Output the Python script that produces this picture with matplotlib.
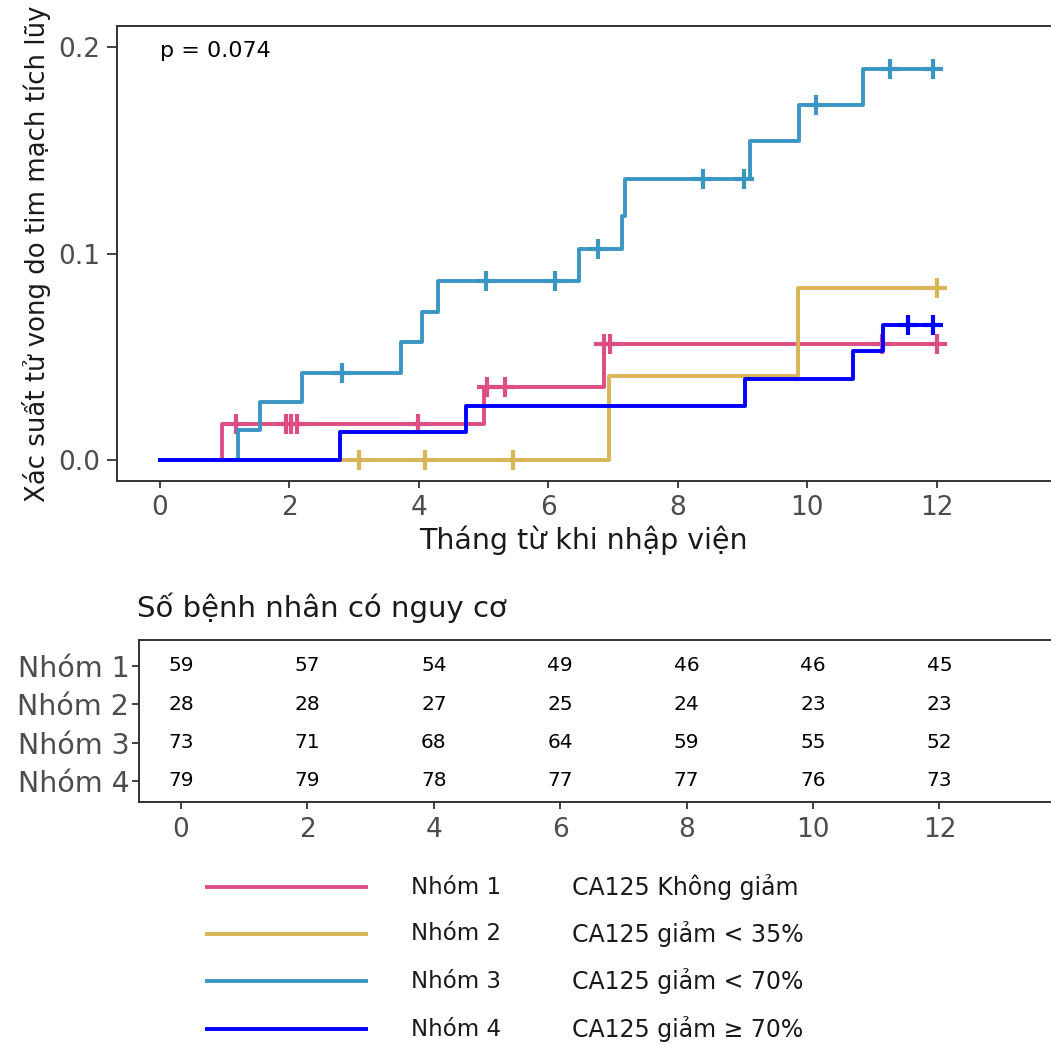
import numpy as np
import matplotlib
matplotlib.use("Agg")
import matplotlib.pyplot as plt

plt.rcParams['font.family'] = ['DejaVu Sans']

# cumulative incidence step curves (months, cumulative probability)
groups = ["Nhóm 1", "Nhóm 2", "Nhóm 3", "Nhóm 4"]
descriptions = ["CA125 Không giảm", "CA125 giảm < 35%", "CA125 giảm < 70%", "CA125 giảm ≥ 70%"]
colors = ["#DE4D86", "#D6B656", "#3A96C3", "#0000FF"]

g1_time = [0, 0.96, 5.0, 6.86, 12.0]
g1_cum = [0, 0.0174, 0.0354, 0.0564, 0.0564]
g1_cens = [1.18, 1.95, 2.03, 2.11, 3.98, 5.05, 5.33, 6.86, 6.95, 11.16, 12.0]

g2_time = [0, 6.94, 9.85, 12.0]
g2_cum = [0, 0.0407, 0.0834, 0.0834]
g2_cens = [3.08, 4.09, 5.45, 12.0]

g3_time = [0, 1.2, 1.55, 2.19, 3.73, 4.05, 4.30, 6.47, 7.14, 7.18, 9.11, 9.87, 10.86, 12.0]
g3_cum = [0, 0.0145, 0.0282, 0.0422, 0.0572, 0.0717, 0.0865, 0.1023, 0.118, 0.136,
          0.1543, 0.1718, 0.1895, 0.1895]
g3_cens = [2.81, 5.03, 6.10, 6.77, 8.39, 9.02, 10.13, 11.28, 11.95]

g4_time = [0, 2.78, 4.73, 9.04, 10.70, 11.17, 12.0]
g4_cum = [0, 0.0134, 0.0261, 0.039, 0.0527, 0.0652, 0.0652]
g4_cens = [11.55, 11.95]

times = [g1_time, g2_time, g3_time, g4_time]
cums = [g1_cum, g2_cum, g3_cum, g4_cum]
censors = [g1_cens, g2_cens, g3_cens, g4_cens]

# number at risk table
risk_times = [0, 2, 4, 6, 8, 10, 12]
risk_n1 = [59, 57, 54, 49, 46, 46, 45]
risk_n2 = [28, 28, 27, 25, 24, 23, 23]
risk_n3 = [73, 71, 68, 64, 59, 55, 52]
risk_n4 = [79, 79, 78, 77, 77, 76, 73]
risk = [risk_n1, risk_n2, risk_n3, risk_n4]

p_text = "p = 0.074"

W, H = 1051, 1044
fig = plt.figure(figsize=(W / 100, H / 100), dpi=100)

tick_col = "#4D4D4D"
spine_col = "#333333"
xlim = (-0.665, 13.75)


def style_axes(ax):
    for s in ["top", "left", "bottom"]:
        ax.spines[s].set_color(spine_col)
        ax.spines[s].set_linewidth(1.4)
    ax.spines["right"].set_visible(False)
    ax.tick_params(colors=spine_col, length=5, width=1.3, labelcolor=tick_col)


# main plot
ax = fig.add_axes([117 / W, 1 - 481 / H, (1050 - 117) / W, (481 - 26) / H])
for t, c, cens, col in zip(times, cums, censors, colors):
    ax.step(t, c, where="post", color=col, lw=2.8)
    t_arr = np.array(t)
    idx = np.searchsorted(t_arr, cens, side="right") - 1
    ax.plot(cens, np.array(c)[idx], ls="none", marker="+", ms=15, mew=3, color=col)

ax.set_xlim(*xlim)
ax.set_ylim(-0.0102, 0.2102)
ax.set_xticks(risk_times)
ax.set_yticks([0, 0.1, 0.2])
ax.set_yticklabels(["0.0", "0.1", "0.2"])
style_axes(ax)
ax.tick_params(labelsize=19, pad=5)
ax.tick_params(axis="y", length=7)
ax.set_xlabel("Tháng từ khi nhập viện", fontsize=20.5, color="#1A1A1A", labelpad=3)
ax.set_ylabel("Xác suất tử vong do tim mạch tích lũy", fontsize=18.7, color="#1A1A1A", labelpad=5)
ax.text(0, 0.198, p_text, fontsize=16, va="center", ha="left", color="black")

# risk table
axt = fig.add_axes([139 / W, 1 - 802 / H, (1050 - 139) / W, (802 - 640) / H])
ypos = [4, 3, 2, 1]
for y, row in zip(ypos, risk):
    for xt, n in zip(risk_times, row):
        axt.text(xt, y, str(n), ha="center", va="center", fontsize=14.5, color="black")
axt.set_xlim(*xlim)
axt.set_ylim(0.452, 4.678)
axt.set_xticks(risk_times)
axt.set_yticks(ypos)
axt.set_yticklabels(groups)
style_axes(axt)
axt.tick_params(axis="x", labelsize=19, pad=6)
axt.tick_params(axis="y", labelsize=20.5, pad=2)
fig.text(137 / W, 1 - 608 / H, "Số bệnh nhân có nguy cơ", fontsize=21, va="center",
         ha="left", color="#1A1A1A")

# legend
axl = fig.add_axes([0, 0, 1, 1 - 860 / H])
axl.set_xlim(0, W)
axl.set_ylim(H, 860)
axl.axis("off")
leg_y = [887, 934, 981, 1029]
for y, g, d, col in zip(leg_y, groups, descriptions, colors):
    axl.plot([205, 368], [y, y], color=col, lw=2.8, solid_capstyle="butt")
    axl.text(411, y, g, fontsize=16.5, va="center", ha="left", color="#1A1A1A")
    axl.text(572, y, d, fontsize=17, va="center", ha="left", color="#1A1A1A")

fig.savefig("out.png", dpi=100)
